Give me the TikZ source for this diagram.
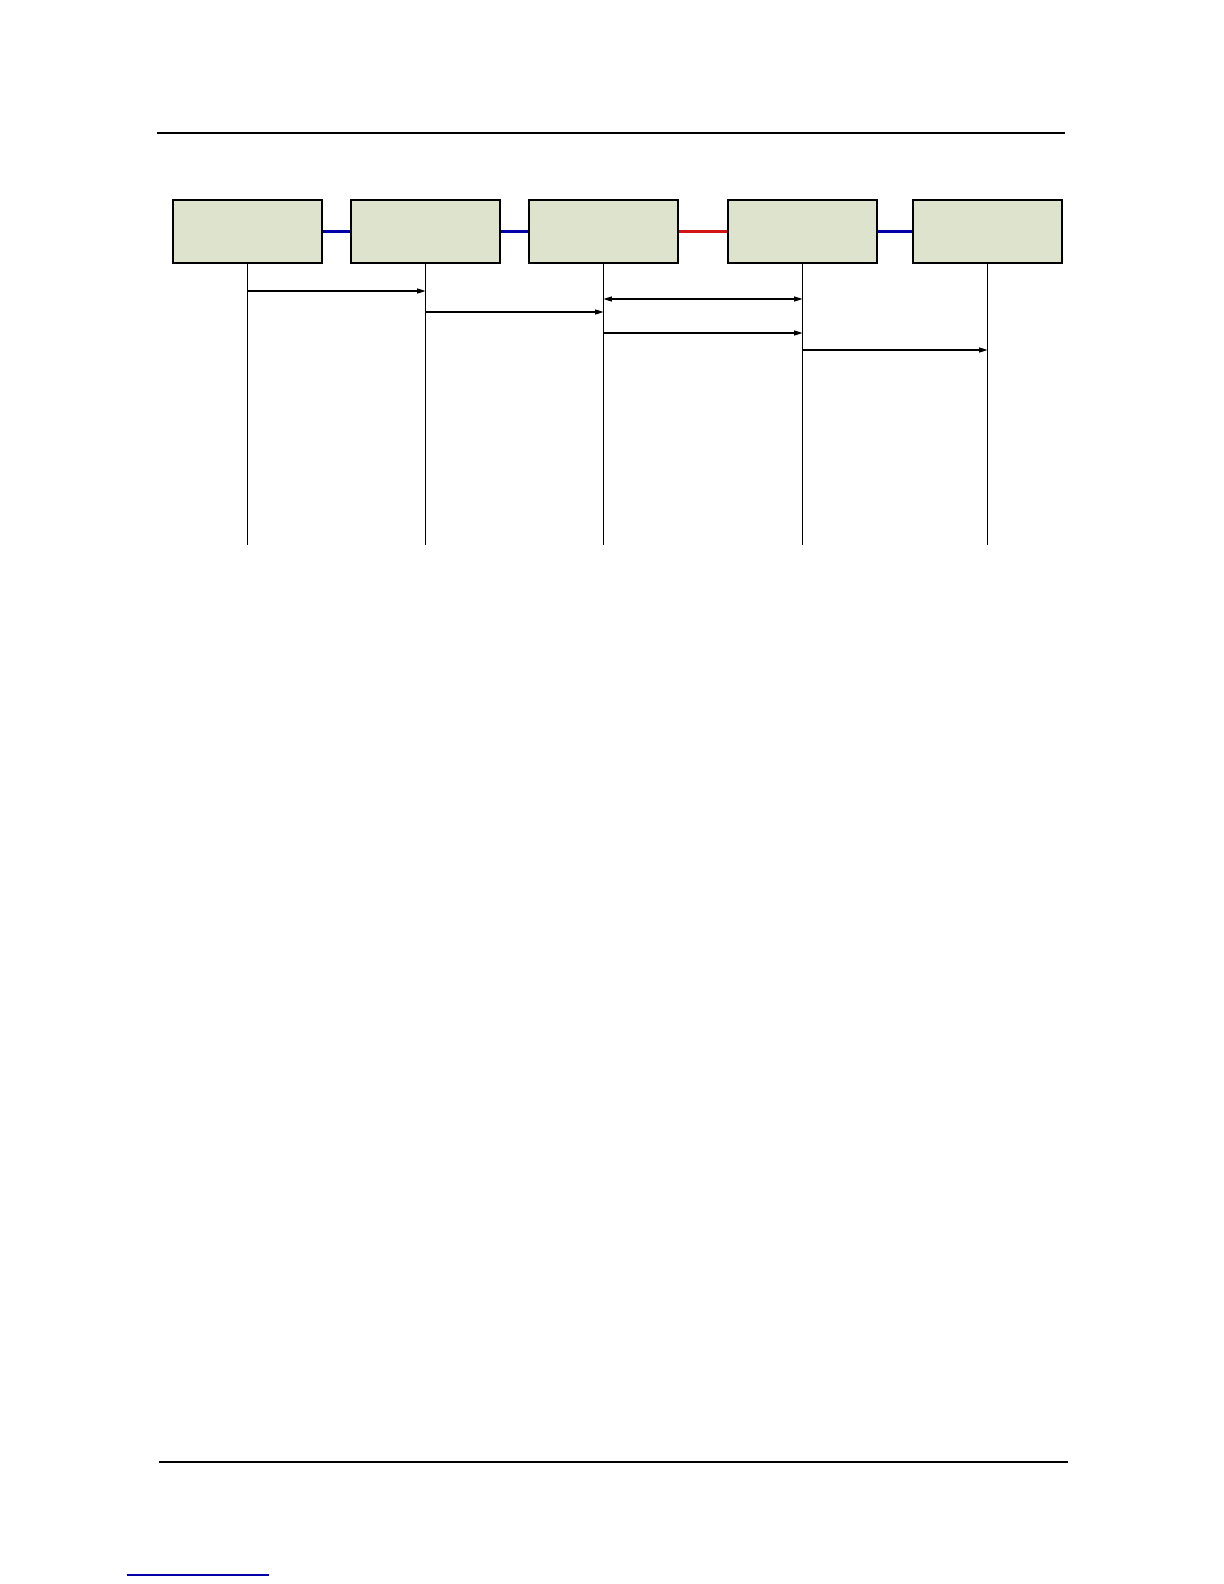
\documentclass[tikz,border=0pt]{standalone}
\usetikzlibrary{arrows.meta}
\definecolor{boxfill}{RGB}{221,227,204}
\definecolor{linkblue}{RGB}{0,0,170}
\definecolor{linkred}{RGB}{210,20,20}
\begin{document}
\begin{tikzpicture}[x=0.6pt,y=-0.6pt,
  entity/.style={draw=black,line width=0.7pt,fill=boxfill,minimum width=149*0.6pt,minimum height=63*0.6pt,inner sep=0pt},
  lifeline/.style={line width=0.7pt},
  msg/.style={line width=0.7pt,-{Triangle[length=5pt,width=3pt]}},
  dmsg/.style={line width=0.7pt,{Triangle[length=5pt,width=3pt]}-{Triangle[length=5pt,width=3pt]}},
  rule/.style={line width=0.8pt},
  thicklink/.style={linkblue,line width=1.9pt},
  thinlink/.style={line width=1.3pt}]
\useasboundingbox (0,0) rectangle (1224,1584);
% header and footer rules
\draw[rule] (157,133) -- (1065,133);
\draw[rule] (159,1462) -- (1068,1462);
\draw[linkblue,line width=0.7pt] (127,1575) -- (269,1575);
% entities
\node[entity] (b1) at (247.5,231.5) {};
\node[entity] (b2) at (425.5,231.5) {};
\node[entity] (b3) at (603.5,231.5) {};
\node[entity] (b4) at (802.5,231.5) {};
\node[entity] (b5) at (987.5,231.5) {};
% links between entities
\draw[thicklink] (b1.east) -- (b2.west);
\draw[thicklink] (b2.east) -- (b3.west);
\draw[thinlink,linkred] (b3.east) -- (b4.west);
\draw[thinlink,linkblue] (b4.east) -- (b5.west);
% lifeline ends
\coordinate (bot) at (0,545);
\foreach \b in {b1,b2,b3,b4,b5}{
  \draw[lifeline] (\b.south) -- (\b |- bot);
}
% message levels
\coordinate (m1) at (0,291);
\coordinate (m2) at (0,312);
\coordinate (m3) at (0,299);
\coordinate (m4) at (0,333);
\coordinate (m5) at (0,350);
\draw[msg] (b1 |- m1) -- (b2 |- m1);
\draw[msg] (b2 |- m2) -- (b3 |- m2);
\draw[dmsg] (b3 |- m3) -- (b4 |- m3);
\draw[msg] (b3 |- m4) -- (b4 |- m4);
\draw[msg] (b4 |- m5) -- (b5 |- m5);
\end{tikzpicture}
\end{document}
